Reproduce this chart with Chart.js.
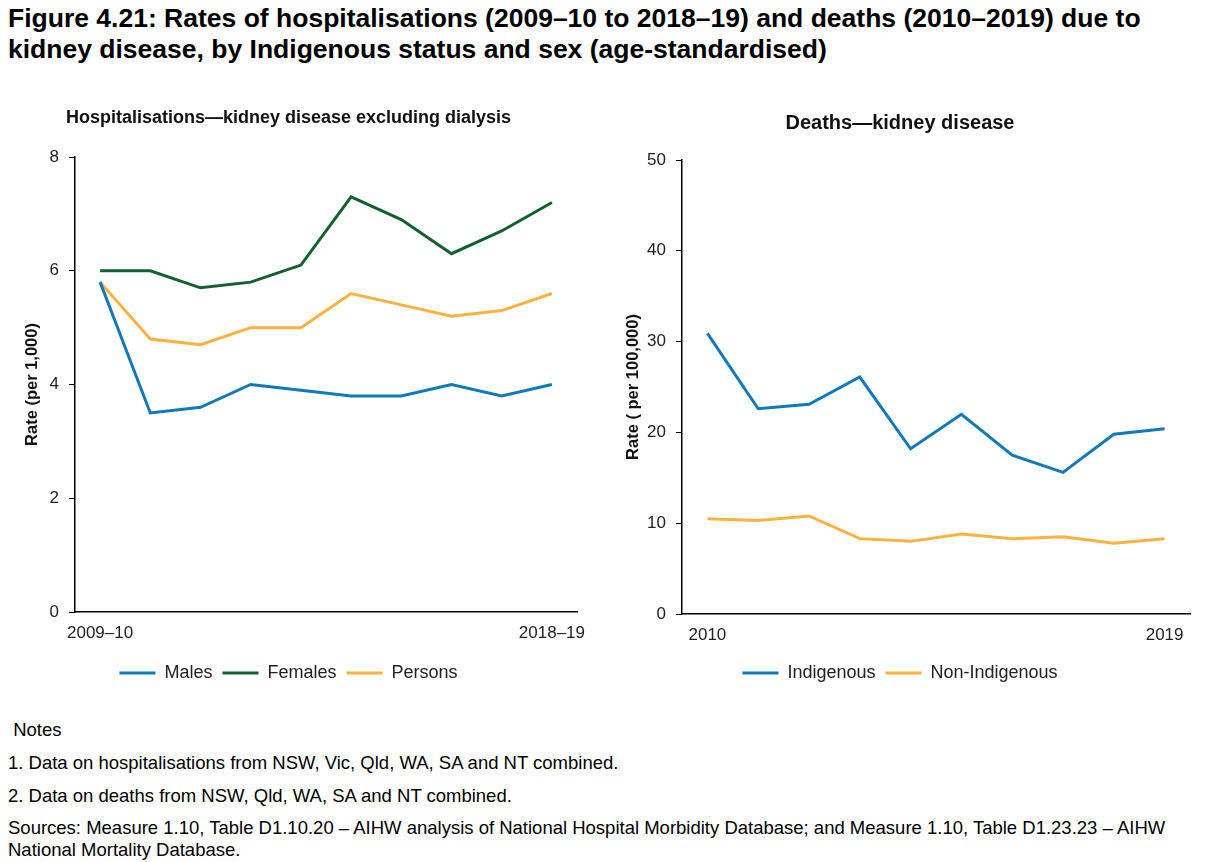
<!DOCTYPE html>
<html>
<head>
<meta charset="utf-8">
<script src="https://cdn.jsdelivr.net/npm/chart.js@4.4.1/dist/chart.umd.min.js"></script>
<style>
    body { margin: 0; background: #fff; font-family: 'Liberation Sans', Arial, sans-serif; color: #000; }
    #page { position: relative; width: 1218px; height: 862px; overflow: hidden; }
    h1 { position: absolute; left: 8px; top: 3px; margin: 0; font-size: 26.5px; line-height: 31px; font-weight: bold; white-space: nowrap; }
    .wrap { position: absolute; top: 90px; height: 602px; }
    #leftWrap { left: 0; width: 600px; }
    #rightWrap { left: 610px; width: 608px; }
    #notes { position: absolute; left: 8px; top: 713px; font-size: 18.5px; line-height: 33px; white-space: nowrap; }
    #notes p { margin: 0; }
    #notes .src { line-height: 22px; margin-top: 5px; }
</style>
</head>
<body>
<div id="page">
    <h1>Figure 4.21: Rates of hospitalisations (2009–10 to 2018–19) and deaths (2010–2019) due to<br>kidney disease, by Indigenous status and sex (age-standardised)</h1>
    <div class="wrap" id="leftWrap"><canvas id="hospChart"></canvas></div>
    <div class="wrap" id="rightWrap"><canvas id="deathChart"></canvas></div>
    <div id="notes">
        <p>&nbsp;Notes</p>
        <p>1. Data on hospitalisations from NSW, Vic, Qld, WA, SA and NT combined.</p>
        <p>2. Data on deaths from NSW, Qld, WA, SA and NT combined.</p>
        <p class="src">Sources: Measure 1.10, Table D1.10.20 – AIHW analysis of National Hospital Morbidity Database; and Measure 1.10, Table D1.23.23 – AIHW<br>National Mortality Database.</p>
    </div>
</div>
<script>
// Data
const hospYears = ['2009–10', '2010–11', '2011–12', '2012–13', '2013–14', '2014–15', '2015–16', '2016–17', '2017–18', '2018–19'];
const hospMales = [5.8, 3.5, 3.6, 4.0, 3.9, 3.8, 3.8, 4.0, 3.8, 4.0];
const hospFemales = [6.0, 6.0, 5.7, 5.8, 6.1, 7.3, 6.9, 6.3, 6.7, 7.2];
const hospPersons = [5.8, 4.8, 4.7, 5.0, 5.0, 5.6, 5.4, 5.2, 5.3, 5.6];

const deathYears = ['2010', '2011', '2012', '2013', '2014', '2015', '2016', '2017', '2018', '2019'];
const deathIndigenous = [30.9, 22.6, 23.1, 26.1, 18.2, 22.0, 17.5, 15.6, 19.8, 20.4];
const deathNonIndigenous = [10.5, 10.3, 10.8, 8.3, 8.0, 8.8, 8.3, 8.5, 7.8, 8.3];

const BLUE = '#1279b9';
const GREEN = '#125f30';
const ORANGE = '#fdb140';
const FONT = "'Liberation Sans', Arial, sans-serif";

function line(label, data, color) {
    return {
        label: label,
        data: data,
        borderColor: color,
        backgroundColor: color,
        borderWidth: 3,
        pointRadius: 0,
        tension: 0,
        fill: false
    };
}

function makeOptions(cfg) {
    return {
        responsive: true,
        maintainAspectRatio: false,
        animation: false,
        layout: { padding: { left: 0, right: cfg.padRight, top: 0, bottom: 0 } },
        plugins: {
            title: {
                display: true,
                text: cfg.title,
                color: '#111',
                font: { family: FONT, size: cfg.titleSize, weight: 'bold' },
                padding: { top: cfg.titleTop, bottom: cfg.titleBottom }
            },
            legend: {
                position: 'bottom',
                labels: {
                    usePointStyle: true,
                    pointStyle: 'line',
                    pointStyleWidth: 36,
                    color: '#222',
                    font: { family: FONT, size: 18 },
                    padding: 10
                }
            },
            tooltip: { enabled: false }
        },
        scales: {
            x: {
                offset: true,
                grid: { display: false, drawTicks: false },
                border: { display: true, color: '#000', width: 1.5 },
                ticks: {
                    autoSkip: false,
                    maxRotation: 0,
                    padding: 11,
                    color: '#222',
                    font: { family: FONT, size: 17 },
                    callback: function(value, index, ticks) {
                        return (index === 0 || index === ticks.length - 1) ? this.getLabelForValue(value) : '';
                    }
                },
                afterFit: function(scale) { scale.height = cfg.xHeight; }
            },
            y: {
                min: 0,
                max: cfg.yMax,
                grid: { display: true, drawOnChartArea: false, drawTicks: true, tickLength: 6, color: '#000' },
                border: { display: true, color: '#000', width: 1.5 },
                ticks: {
                    stepSize: cfg.yStep,
                    padding: 10,
                    color: '#222',
                    font: { family: FONT, size: 17 }
                },
                title: {
                    display: true,
                    text: cfg.yTitle,
                    color: '#111',
                    font: { family: FONT, size: 16.5, weight: 'bold' },
                    padding: { top: cfg.yTitleTop, bottom: 0 }
                },
                afterFit: function(scale) { scale.width = cfg.yWidth; }
            }
        }
    };
}

new Chart(document.getElementById('hospChart'), {
    type: 'line',
    data: {
        labels: hospYears,
        datasets: [
            line('Males', hospMales, BLUE),
            line('Females', hospFemales, GREEN),
            line('Persons', hospPersons, ORANGE)
        ]
    },
    options: makeOptions({
        title: 'Hospitalisations—kidney disease excluding dialysis',
        titleSize: 18, titleTop: 17, titleBottom: 28.4,
        padRight: 23, xHeight: 42, yWidth: 75,
        yMax: 8, yStep: 2,
        yTitle: 'Rate (per 1,000)', yTitleTop: 23
    })
});

new Chart(document.getElementById('deathChart'), {
    type: 'line',
    data: {
        labels: deathYears,
        datasets: [
            line('Indigenous', deathIndigenous, BLUE),
            line('Non-Indigenous', deathNonIndigenous, ORANGE)
        ]
    },
    options: makeOptions({
        title: 'Deaths—kidney disease',
        titleSize: 20, titleTop: 21, titleBottom: 25,
        padRight: 28, xHeight: 40, yWidth: 72,
        yMax: 50, yStep: 10,
        yTitle: 'Rate ( per 100,000)', yTitleTop: 14
    })
});
</script>
</body>
</html>
